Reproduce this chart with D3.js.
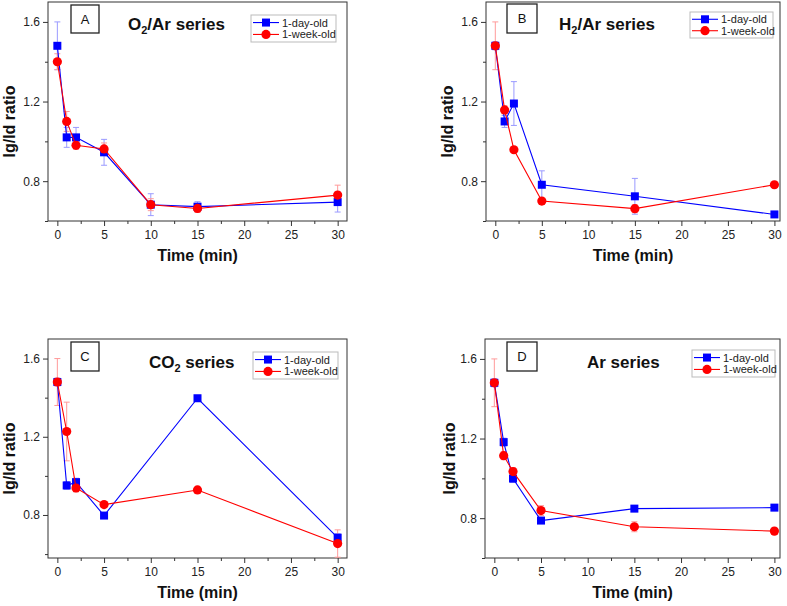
<!DOCTYPE html>
<html><head><meta charset="utf-8">
<script src="https://cdn.jsdelivr.net/npm/d3@7"></script>
<style>body{margin:0;background:#fff} svg{display:block} text{font-family:Arial,"Liberation Sans",Helvetica,sans-serif}</style>
</head><body>
<svg id="c" width="787" height="606"></svg>
<script>
// ---------- data ----------
const seriesNames = ["1-day-old", "1-week-old"];
const panelLetters = ["A", "B", "C", "D"];
const panelTitles = [["O", "2", "/Ar series"], ["H", "2", "/Ar series"], ["CO", "2", " series"], ["Ar series", "", ""]];
const xTitle = "Time (min)";
const yTitle = "Ig/Id ratio";

const timesA = [0, 1, 2, 5, 10, 15, 30];
const timesBCD = [0, 1, 2, 5, 15, 30];

const dayA  = [1.48, 1.02, 1.02, 0.945, 0.682, 0.672, 0.695];
const weekA = [1.40, 1.10, 0.98, 0.962, 0.682, 0.663, 0.730];
const dayErrA  = [0.12, 0.05, 0.05, 0.065, 0.055, 0.025, 0.05];
const weekErrA = [0.04, 0.05, 0.02, 0.03, 0.03, 0.02, 0.05];

const dayB  = [1.48, 1.10, 1.19, 0.782, 0.724, 0.633];
const weekB = [1.48, 1.158, 0.958, 0.700, 0.662, 0.782];
const dayErrB  = [0.02, 0.03, 0.11, 0.07, 0.09, 0.01];
const weekErrB = [0.12, 0.02, 0.01, 0.01, 0.02, 0.01];

const dayC  = [1.48, 0.951, 0.968, 0.797, 1.397, 0.684];
const weekC = [1.48, 1.227, 0.938, 0.853, 0.928, 0.654];
const dayErrC  = [0.02, 0.02, 0.02, 0.01, 0.01, 0.02];
const weekErrC = [0.12, 0.15, 0.02, 0.01, 0.01, 0.07];

const dayD  = [1.48, 1.182, 0.999, 0.788, 0.848, 0.853];
const weekD = [1.48, 1.114, 1.034, 0.838, 0.757, 0.735];
const dayErrD  = [0.02, 0.02, 0.02, 0.01, 0.01, 0.01];
const weekErrD = [0.12, 0.02, 0.02, 0.025, 0.025, 0.01];

const xTicks = [0, 5, 10, 15, 20, 25, 30];
const xMinorTicks = [2.5, 7.5, 12.5, 17.5, 22.5, 27.5];
const yTicks = [0.8, 1.2, 1.6];
const yMinorTicks = [0.6, 1.0, 1.4];

// ---------- layout ----------
const layout = [
  {l:48, r:347, t:2, b:221, xd:[-1,31], yd:[0.6,1.7], box:[71,5,28,28], leg:[251,15,85,27], tx:128, ty:30, ylx:14.5, xly:261},
  {l:486, r:780, t:2, b:221, xd:[-1,30.6], yd:[0.6,1.7], box:[507,4,30,29], leg:[690,12,83,26], tx:559, ty:30, ylx:453, xly:261},
  {l:48, r:347, t:339, b:558, xd:[-1,31], yd:[0.58,1.7], box:[71,342,28,29], leg:[253,352,85,27], tx:149, ty:368, ylx:15, xly:598},
  {l:485, r:780, t:339, b:558, xd:[-1,30.6], yd:[0.6,1.7], box:[507,342,30,29], leg:[692,350,83,27], tx:587, ty:368, ylx:455, xly:598}
];
const panelData = [
  {times: timesA, vals:[dayA, weekA], errs:[dayErrA, weekErrA]},
  {times: timesBCD, vals:[dayB, weekB], errs:[dayErrB, weekErrB]},
  {times: timesBCD, vals:[dayC, weekC], errs:[dayErrC, weekErrC]},
  {times: timesBCD, vals:[dayD, weekD], errs:[dayErrD, weekErrD]}
];
const colors = ["#0000ff", "#ff0000"];
const errColors = ["#9a9aff", "#ff9a9a"];
const frameColor = "#333";

const svg = d3.select("#c");

function drawMarker(g, i, x, y) {
  if (i === 0) {
    g.append("rect").attr("x", x - 4).attr("y", y - 4).attr("width", 8).attr("height", 8).attr("fill", colors[0]);
  } else {
    g.append("circle").attr("cx", x).attr("cy", y).attr("r", 4.6).attr("fill", colors[1]);
  }
}

layout.forEach((L, p) => {
  const D = panelData[p];
  const x = d3.scaleLinear().domain(L.xd).range([L.l, L.r]);
  const y = d3.scaleLinear().domain(L.yd).range([L.b, L.t]);
  const g = svg.append("g");

  // axes
  const xAxis = g.append("g").attr("transform", `translate(0,${L.b})`)
    .call(d3.axisBottom(x).tickValues(xTicks).tickSize(5).tickPadding(4).tickFormat(d3.format("d")));
  const xMinor = g.append("g").attr("transform", `translate(0,${L.b})`)
    .call(d3.axisBottom(x).tickValues(xMinorTicks).tickSize(3).tickFormat(""));
  const yAxis = g.append("g").attr("transform", `translate(${L.l},0)`)
    .call(d3.axisLeft(y).tickValues(yTicks).tickSize(5).tickPadding(3).tickFormat(d3.format(".1f")));
  const yMinor = g.append("g").attr("transform", `translate(${L.l},0)`)
    .call(d3.axisLeft(y).tickValues(yMinorTicks).tickSize(3).tickFormat(""));
  [xAxis, xMinor, yAxis, yMinor].forEach(a => {
    a.select(".domain").remove();
    a.selectAll("line").attr("stroke", frameColor);
    a.selectAll("text").attr("font-size", 12).attr("fill", "#222");
  });

  // frame
  g.append("rect").attr("x", L.l).attr("y", L.t).attr("width", L.r - L.l).attr("height", L.b - L.t)
    .attr("fill", "none").attr("stroke", frameColor).attr("stroke-width", 1);

  // error bars
  [0, 1].forEach(s => {
    const eg = g.append("g").attr("stroke", errColors[s]).attr("stroke-width", 1);
    D.times.forEach((t, k) => {
      const v = D.vals[s][k], e = D.errs[s][k];
      const cx = x(t);
      eg.append("line").attr("x1", cx).attr("x2", cx).attr("y1", y(v - e)).attr("y2", y(v + e));
      eg.append("line").attr("x1", cx - 3).attr("x2", cx + 3).attr("y1", y(v - e)).attr("y2", y(v - e));
      eg.append("line").attr("x1", cx - 3).attr("x2", cx + 3).attr("y1", y(v + e)).attr("y2", y(v + e));
    });
  });

  // lines + markers
  [0, 1].forEach(s => {
    const line = d3.line().x((d, k) => x(D.times[k])).y(d => y(d));
    g.append("path").datum(D.vals[s]).attr("d", line).attr("fill", "none")
      .attr("stroke", colors[s]).attr("stroke-width", 1.1);
    const mg = g.append("g");
    D.vals[s].forEach((v, k) => drawMarker(mg, s, x(D.times[k]), y(v)));
  });

  // letter box
  g.append("rect").attr("x", L.box[0]).attr("y", L.box[1]).attr("width", L.box[2]).attr("height", L.box[3])
    .attr("fill", "#fff").attr("stroke", "#222").attr("stroke-width", 1.3);
  g.append("text").attr("x", L.box[0] + L.box[2] / 2).attr("y", L.box[1] + L.box[3] / 2 + 4.5)
    .attr("text-anchor", "middle").attr("font-size", 13).attr("fill", "#111").text(panelLetters[p]);

  // title
  const tt = g.append("text").attr("x", L.tx).attr("y", L.ty).attr("font-size", 17).attr("font-weight", "bold").attr("fill", "#111");
  const parts = panelTitles[p];
  tt.append("tspan").text(parts[0]);
  if (parts[1]) {
    tt.append("tspan").attr("font-size", 11).attr("dy", 4).text(parts[1]);
    tt.append("tspan").attr("dy", -4).text(parts[2]);
  }

  // legend
  const [lx, ly, lw, lh] = L.leg;
  g.append("rect").attr("x", lx).attr("y", ly).attr("width", lw).attr("height", lh)
    .attr("fill", "#fff").attr("stroke", "#bbb").attr("stroke-width", 1);
  seriesNames.forEach((name, s) => {
    const yy = ly + lh * (s === 0 ? 0.28 : 0.72);
    g.append("line").attr("x1", lx + 2).attr("x2", lx + 28).attr("y1", yy).attr("y2", yy)
      .attr("stroke", colors[s]).attr("stroke-width", 1.1);
    drawMarker(g, s, lx + 15, yy);
    g.append("text").attr("x", lx + 31).attr("y", yy + 4).attr("font-size", 11).attr("fill", "#222").text(name);
  });

  // axis titles
  g.append("text").attr("x", (L.l + L.r) / 2).attr("y", L.xly).attr("text-anchor", "middle")
    .attr("font-size", 16).attr("font-weight", "bold").attr("fill", "#111").text(xTitle);
  g.append("text").attr("transform", `translate(${L.ylx},${(L.t + L.b) / 2 + 10}) rotate(-90)`)
    .attr("text-anchor", "middle").attr("font-size", 16).attr("font-weight", "bold").attr("fill", "#111").text(yTitle);
});
</script>
</body></html>
